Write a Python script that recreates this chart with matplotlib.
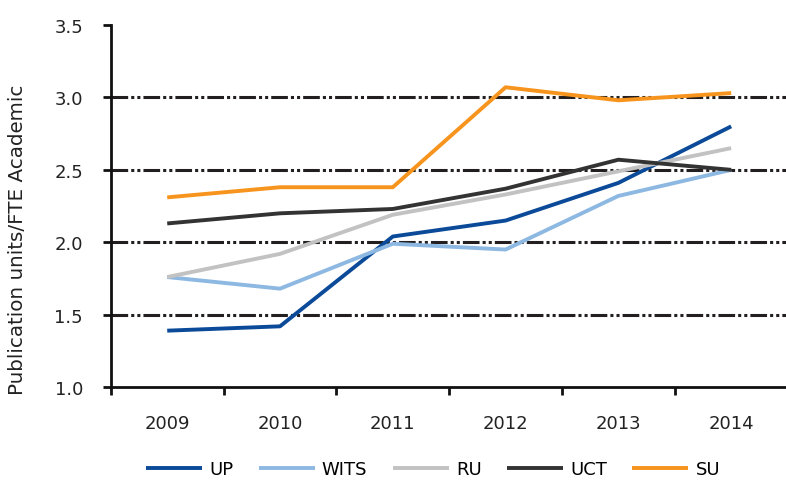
import matplotlib
matplotlib.use("Agg")
import matplotlib.pyplot as plt
import numpy as np

years = ["2009", "2010", "2011", "2012", "2013", "2014"]
UP = [1.39, 1.42, 2.04, 2.15, 2.41, 2.80]
WITS = [1.76, 1.68, 1.99, 1.95, 2.32, 2.50]
RU = [1.76, 1.92, 2.19, 2.33, 2.49, 2.65]
UCT = [2.13, 2.20, 2.23, 2.37, 2.57, 2.50]
SU = [2.31, 2.38, 2.38, 3.07, 2.98, 3.03]
series_names = ["UP", "WITS", "RU", "UCT", "SU"]
colors = ["#0B4A98", "#8DB8E2", "#C2C2C2", "#333333", "#F7941D"]

plt.rcParams['font.family'] = ['DejaVu Sans']
plt.rcParams['lines.scale_dashes'] = False

fig = plt.figure(figsize=(7.86, 4.81), dpi=100)
ax = fig.add_axes([0.141, 0.193, 0.861, 0.753])

x = np.arange(len(years))
ax.set_xlim(-0.5, len(years) - 0.5)
ax.set_ylim(1.0, 3.5)
ax.set_yticks([1.0, 1.5, 2.0, 2.5, 3.0, 3.5])
ax.set_yticklabels(["1.0", "1.5", "2.0", "2.5", "3.0", "3.5"])

for yv in [1.5, 2.0, 2.5, 3.0]:
    ax.axhline(yv, color="#231F20", lw=2.2, dashes=(12, 2.2, 2.2, 2.2, 2.2, 2.2), zorder=1)

for data, name, c in zip([UP, WITS, RU, UCT, SU], series_names, colors):
    ax.plot(x, data, color=c, lw=2.8, label=name, zorder=3, solid_capstyle='butt')

ax.set_xticks(np.arange(len(years) + 1) - 0.5)
ax.set_xticklabels([])
ax.set_xticks(x, minor=True)
ax.set_xticklabels(years, minor=True)
ax.tick_params(axis='x', which='minor', length=0, pad=19, labelsize=13, colors="#222222")
ax.tick_params(axis='x', which='major', length=6, width=2, direction='out', color="#111111")
ax.tick_params(axis='y', length=6, width=2, direction='out', color="#111111", labelsize=13, labelcolor="#222222", pad=14)

for s in ['top', 'right']:
    ax.spines[s].set_visible(False)
for s in ['left', 'bottom']:
    ax.spines[s].set_linewidth(2)
    ax.spines[s].set_color("#111111")

ax.set_ylabel("Publication units/FTE Academic", fontsize=14.3, color="#222222")
ax.yaxis.set_label_coords(-0.124, 0.41)

fig.legend(loc='lower center', bbox_to_anchor=(0.551, -0.03), ncol=5, frameon=False,
           fontsize=13, handlelength=3.1, columnspacing=1.4, handletextpad=0.4)

fig.savefig("out.png", dpi=100)
